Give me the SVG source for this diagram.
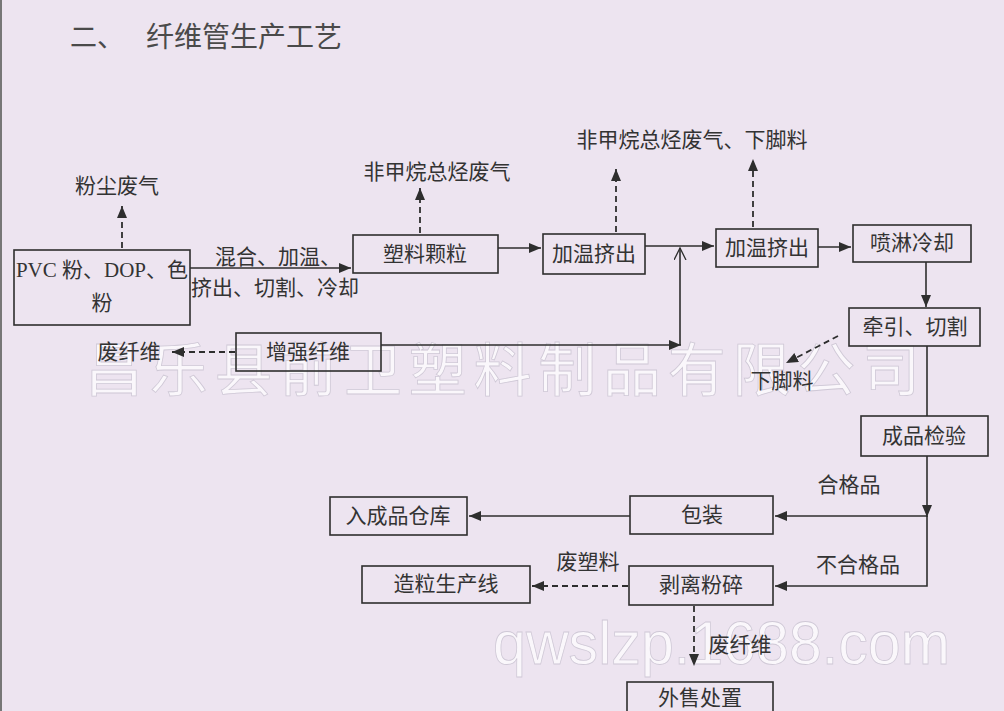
<svg xmlns="http://www.w3.org/2000/svg" width="1004" height="711" viewBox="0 0 1004 711">
<defs>
<marker id="ah" markerUnits="userSpaceOnUse" markerWidth="14" markerHeight="12" refX="12" refY="5" orient="auto"><path d="M0,0 L12,5 L0,10 Z" fill="#2e2e2e"/></marker>
<marker id="oh" markerUnits="userSpaceOnUse" markerWidth="14" markerHeight="14" refX="12" refY="6" orient="auto"><path d="M0,0 L12,6 L0,12" fill="none" stroke="#2e2e2e" stroke-width="1.3"/></marker>
</defs>
<style>
.bg{fill:#ede4f0}
.box{fill:none;stroke:#2e2e2e;stroke-width:1.6}
.t{font-family:"Liberation Serif","Noto Sans CJK SC",serif;font-size:21px;fill:#333;text-anchor:middle;dominant-baseline:central}
.ln{fill:none;stroke:#2e2e2e;stroke-width:1.6}
.sa{marker-end:url(#ah)}
.dash{fill:none;stroke:#2e2e2e;stroke-width:1.8;stroke-dasharray:6,4;marker-end:url(#ah)}
.wm{font-family:"Noto Sans CJK SC",sans-serif;fill:#ffffff;fill-opacity:0.7;stroke:#cfc8d6;stroke-width:0.8}
</style>
<rect class="bg" x="0" y="0" width="1004" height="711"/>
<line x1="1" y1="0" x2="1" y2="711" stroke="#777" stroke-width="2"/>

<g id="watermark">
<text class="wm" x="85" y="391" font-size="58" textLength="835" lengthAdjust="spacing">昌乐县前卫塑料制品有限公司</text>
<text class="wm" x="493" y="664" font-size="62" textLength="457" lengthAdjust="spacingAndGlyphs" style="font-family:'Liberation Sans',sans-serif">qwslzp.1688.com</text>
</g>

<text x="70" y="35" style="font-family:'Noto Sans CJK SC',sans-serif;font-size:27px;fill:#4a4a4a;dominant-baseline:central">二、</text>
<text x="146" y="35" style="font-family:'Noto Sans CJK SC',sans-serif;font-size:28px;fill:#4a4a4a;dominant-baseline:central">纤维管生产工艺</text>

<g id="connectors">
<line class="dash" x1="122" y1="248" x2="122" y2="206"/>
<line class="ln sa" x1="190" y1="268" x2="351" y2="268"/>
<line class="dash" x1="420" y1="233" x2="420" y2="188"/>
<line class="ln sa" x1="498" y1="248" x2="541" y2="248"/>
<line class="dash" x1="616" y1="232" x2="616" y2="169"/>
<line class="ln sa" x1="645" y1="246" x2="714" y2="246"/>
<line class="ln sa" x1="381" y1="345" x2="681" y2="345"/>
<path class="ln" d="M680,345 V248" marker-end="url(#oh)"/>
<line class="dash" x1="753" y1="227" x2="753" y2="159"/>
<line class="ln sa" x1="818" y1="247" x2="851" y2="247"/>
<line class="ln sa" x1="926" y1="262" x2="926" y2="307"/>
<line class="dash" x1="838" y1="336" x2="786" y2="363"/>
<line class="ln" x1="927" y1="346" x2="927" y2="416"/>
<line class="ln sa" x1="927" y1="456" x2="927" y2="517"/>
<line class="ln sa" x1="927" y1="516" x2="775" y2="516"/>
<path class="ln sa" d="M927,516 V586 H775"/>
<line class="ln sa" x1="630" y1="516" x2="469" y2="516"/>
<line class="dash" x1="628" y1="586" x2="532" y2="586"/>
<line class="dash" x1="694" y1="606" x2="694" y2="666"/>
<line class="dash" x1="235" y1="352" x2="172" y2="352"/>
</g>

<g id="n-pvc"><rect class="box" x="14" y="250" width="176" height="75"/><text class="t" x="102" y="270">PVC 粉、DOP、色</text><text class="t" x="102" y="303">粉</text></g>
<g id="n-slkl"><rect class="box" x="353" y="235" width="145" height="38"/><text class="t" x="425" y="254">塑料颗粒</text></g>
<g id="n-jwjc1"><rect class="box" x="543" y="234" width="102" height="40"/><text class="t" x="594" y="254">加温挤出</text></g>
<g id="n-jwjc2"><rect class="box" x="716" y="229" width="102" height="38"/><text class="t" x="767" y="248">加温挤出</text></g>
<g id="n-plqq"><rect class="box" x="853" y="225" width="118" height="37"/><text class="t" x="912" y="243">喷淋冷却</text></g>
<g id="n-qyqg"><rect class="box" x="849" y="308" width="131" height="38"/><text class="t" x="915" y="327">牵引、切割</text></g>
<g id="n-cpjy"><rect class="box" x="861" y="416" width="127" height="40"/><text class="t" x="924" y="436">成品检验</text></g>
<g id="n-bz"><rect class="box" x="630" y="496" width="143" height="38"/><text class="t" x="702" y="515">包装</text></g>
<g id="n-rcpck"><rect class="box" x="330" y="497" width="137" height="38"/><text class="t" x="398" y="516">入成品仓库</text></g>
<g id="n-blfs"><rect class="box" x="629" y="566" width="144" height="39"/><text class="t" x="701" y="585">剥离粉碎</text></g>
<g id="n-zlscx"><rect class="box" x="362" y="566" width="168" height="37"/><text class="t" x="446" y="584">造粒生产线</text></g>
<g id="n-wscz"><rect class="box" x="627" y="682" width="146" height="40"/><text class="t" x="700" y="698">外售处置</text></g>
<g id="n-zqxw"><rect class="box" x="236" y="333" width="145" height="38"/><text class="t" x="308" y="352">增强纤维</text></g>

<g id="labels">
<text class="t" x="117" y="186">粉尘废气</text>
<text class="t" x="278" y="257">混合、加温、</text>
<text class="t" x="275" y="288">挤出、切割、冷却</text>
<text class="t" x="437" y="172">非甲烷总烃废气</text>
<text class="t" x="692" y="140">非甲烷总烃废气、下脚料</text>
<text class="t" x="129" y="352">废纤维</text>
<text class="t" x="782" y="381">下脚料</text>
<text class="t" x="849" y="485">合格品</text>
<text class="t" x="858" y="565">不合格品</text>
<text class="t" x="588" y="562">废塑料</text>
<text class="t" x="740" y="645">废纤维</text>
</g>
</svg>
